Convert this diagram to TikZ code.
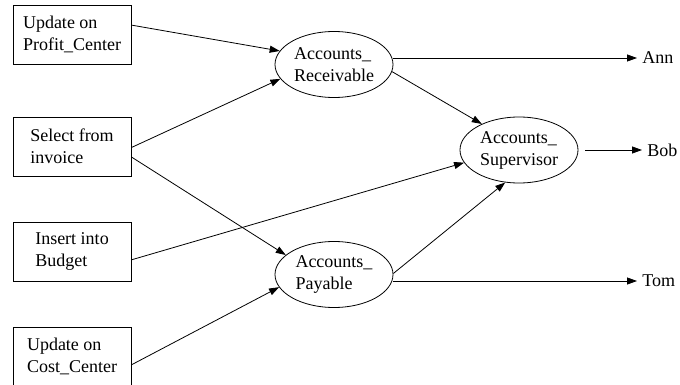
\documentclass[tikz,border=0pt]{standalone}
\usepackage{fontspec}
\setmainfont{Liberation Serif}
\usepackage{tikz}
\usetikzlibrary{positioning,
        shapes.geometric,
        arrows.meta}

\begin{document}
\begin{tikzpicture}[x=1pt,y=-1pt,line width=0.8pt,
            font={\fontsize{18}{22}\selectfont},
            box/.style={draw,rectangle,minimum width=118pt,minimum height=59pt,align=left},
            sec/.style={draw,ellipse,minimum width=118pt,minimum height=66pt,inner sep=0pt,align=left},
            usr/.style={anchor=west,inner xsep=5pt},
            >={Triangle[length=10pt,width=7pt]}]
            \useasboundingbox (0,0) rectangle (680,385);

            \node [box] (pc) at (72,34.5) {Update on\\Profit\_Center};
            \node [box] (sel) at (72,146.5) {Select from\\invoice};
            \node [box] (bud) at (72,251.5) {Insert into\\Budget};
            \node [box] (cc) at (72,356.5) {Update on\\Cost\_Center};
            \node [sec] (ar) at (334,64.5) {Accounts\_\\Receivable};
            \node [sec] (as) at (519,150) {Accounts\_\\Supervisor};
            \node [sec] (ap) at (334,274.5) {Accounts\_\\Payable};
            \node [usr] (ann) at (637,58) {Ann};
            \node [usr] (bob) at (642,150) {Bob};
            \node [usr] (tom) at (637,281) {Tom};

            \draw [->] (pc.9) -- (ar.166);
            \draw [->] (sel.-1) -- (ar.195);
            \draw [->] (sel.-10) -- (ap.158);
            \draw [->] (bud.-8) -- (as.193);
            \draw [->] (cc.-8) -- (ap.193);
            \draw [->] (ar.-7) -- (as.145);
            \draw [->] (ap.1) -- (as.247);
            \draw [->] (ar.east |- ann.west) -- (ann.west);
            \draw [->,shorten <=7pt] (as.east) -- (bob.west);
            \draw [->] (ap.east |- tom.west) -- (tom.west);
        \end{tikzpicture}
\end{document}
